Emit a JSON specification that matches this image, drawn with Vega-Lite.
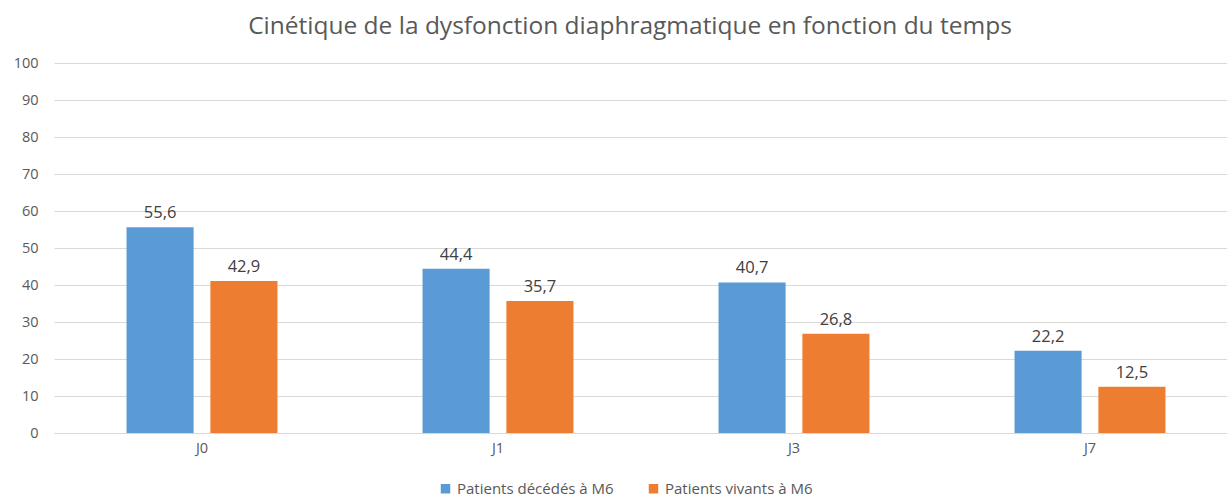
{
  "$schema": "https://vega.github.io/schema/vega-lite/v6.json",
  "width": 1184,
  "height": 370,
  "autosize": {"type": "none"},
  "padding": {"left": 54, "top": 63, "right": 0, "bottom": 64},
  "background": "white",
  "config": {"view": {"stroke": null}},
  "title": {
    "text": "Cinétique de la dysfonction diaphragmatique en fonction du temps",
    "font": "Open Sans",
    "fontSize": 24.5,
    "fontWeight": "normal",
    "color": "#595959",
    "anchor": "middle",
    "dx": -16,
    "offset": 16
  },
  "data": {
    "values": [
      {"jour": "J0", "groupe": "Patients décédés à M6", "valeur": 55.6, "label": "55,6"},
      {"jour": "J0", "groupe": "Patients vivants à M6", "valeur": 41.1, "label": "42,9"},
      {"jour": "J1", "groupe": "Patients décédés à M6", "valeur": 44.4, "label": "44,4"},
      {"jour": "J1", "groupe": "Patients vivants à M6", "valeur": 35.7, "label": "35,7"},
      {"jour": "J3", "groupe": "Patients décédés à M6", "valeur": 40.7, "label": "40,7"},
      {"jour": "J3", "groupe": "Patients vivants à M6", "valeur": 26.8, "label": "26,8"},
      {"jour": "J7", "groupe": "Patients décédés à M6", "valeur": 22.2, "label": "22,2"},
      {"jour": "J7", "groupe": "Patients vivants à M6", "valeur": 12.5, "label": "12,5"}
    ]
  },
  "encoding": {
    "x": {
      "field": "jour",
      "type": "nominal",
      "scale": {"paddingInner": 0.49, "paddingOuter": 0.245},
      "axis": {
        "title": null,
        "labelAngle": 0,
        "labelFont": "Open Sans",
        "labelFontSize": 14.5,
        "labelColor": "#595959",
        "labelPadding": 8,
        "ticks": false,
        "domainColor": "#D9D9D9",
        "grid": false
      }
    },
    "xOffset": {
      "field": "groupe",
      "type": "nominal",
      "scale": {"paddingInner": 0.2, "paddingOuter": 0}
    },
    "y": {
      "field": "valeur",
      "type": "quantitative",
      "scale": {"domain": [0, 100], "nice": false},
      "axis": {
        "title": null,
        "values": [0, 10, 20, 30, 40, 50, 60, 70, 80, 90, 100],
        "labelFont": "Open Sans",
        "labelFontSize": 14.5,
        "labelColor": "#595959",
        "labelPadding": 16,
        "ticks": false,
        "domain": false,
        "gridColor": "#D9D9D9",
        "gridWidth": 1
      }
    }
  },
  "layer": [
    {
      "mark": {"type": "bar"},
      "encoding": {
        "color": {
          "field": "groupe",
          "type": "nominal",
          "scale": {
            "domain": ["Patients décédés à M6", "Patients vivants à M6"],
            "range": ["#5B9BD5", "#ED7D31"]
          },
          "legend": {
            "title": null,
            "orient": "none",
            "legendX": 384,
            "legendY": 418,
            "direction": "horizontal",
            "symbolType": "square",
            "symbolSize": 90,
            "symbolStrokeWidth": 0,
            "labelFont": "Open Sans",
            "labelFontSize": 15,
            "labelColor": "#595959",
            "labelOffset": 4,
            "labelLimit": 400,
            "columnPadding": 32
          }
        }
      }
    },
    {
      "mark": {"type": "text", "baseline": "alphabetic", "dy": -9, "font": "Open Sans", "fontSize": 16.5, "color": "#404040"},
      "encoding": {
        "text": {"field": "label"}
      }
    }
  ]
}
